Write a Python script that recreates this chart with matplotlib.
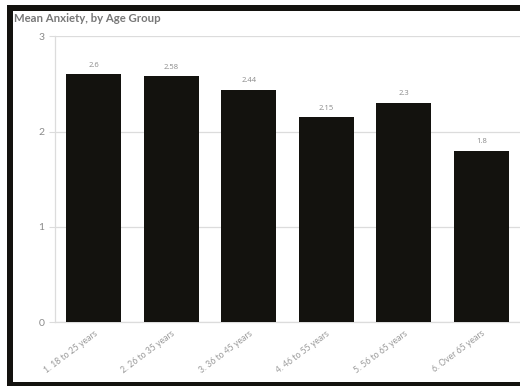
import matplotlib
matplotlib.use('Agg')
import matplotlib.pyplot as plt
from matplotlib.patches import Rectangle

# 数据
categories = ['1. 18 to 25 years', '2. 26 to 35 years', '3. 36 to 45 years',
              '4. 46 to 55 years', '5. 56 to 65 years', '6. Over 65 years']
mean_anxiety = [2.6, 2.58, 2.44, 2.15, 2.3, 1.8]
y_ticks = [0, 1, 2, 3]

W, H = 520, 386
BAR = '#13120e'
GREY = '#8a8a8a'
LIGHT = '#dcdcdc'

plt.rcParams['font.family'] = ['Lato', 'DejaVu Sans']

fig = plt.figure(figsize=(W / 100, H / 100), dpi=100)
fig.patch.set_facecolor('white')

# 外框（黑色边条）
for x0, y0, w, h in [(7, 5, 513, 6), (7, 5, 6, 381), (7, 382, 513, 4)]:
    fig.patches.append(Rectangle((x0 / W, 1 - (y0 + h) / H), w / W, h / H,
                                 transform=fig.transFigure, facecolor=BAR,
                                 edgecolor='none', zorder=5))

fig.text(14 / W, 1 - 18 / H, 'Mean Anxiety, by Age Group', ha='left', va='center',
         fontsize=8.2, fontweight='bold', color='#777777')

ax = fig.add_axes([55 / W, (H - 322) / H, (W - 55) / W, (322 - 36) / H])
x = range(len(categories))
bars = ax.bar(x, mean_anxiety, width=0.71, color=BAR, zorder=3)

# 柱顶数值
for xi, v in zip(x, mean_anxiety):
    ax.text(xi, v + 0.06, f'{v:g}', ha='center', va='bottom',
            fontsize=5.5, color=GREY, family='Open Sans')

ax.set_xlim(-0.5, 5.5)
ax.set_ylim(0, 3.003)
ax.set_yticks(y_ticks)
ax.set_yticklabels([str(t) for t in y_ticks])
ax.set_xticks(list(x))
ax.set_xticklabels(categories, rotation=37, ha='right', rotation_mode='anchor')

ax.tick_params(axis='y', length=4.5, width=0.8, color=LIGHT, labelsize=7.5,
               labelcolor=GREY, pad=3)
ax.tick_params(axis='x', length=0, labelsize=6.2, labelcolor='#9a9a9a', pad=5)

ax.yaxis.grid(True, color=LIGHT, linewidth=0.9, zorder=0)
for side in ['top', 'right']:
    ax.spines[side].set_visible(False)
ax.spines['left'].set_color(LIGHT)
ax.spines['bottom'].set_color(LIGHT)
ax.spines['left'].set_linewidth(0.9)
ax.spines['bottom'].set_linewidth(0.9)

plt.savefig('out.png', dpi=100, facecolor='white')
plt.close()
